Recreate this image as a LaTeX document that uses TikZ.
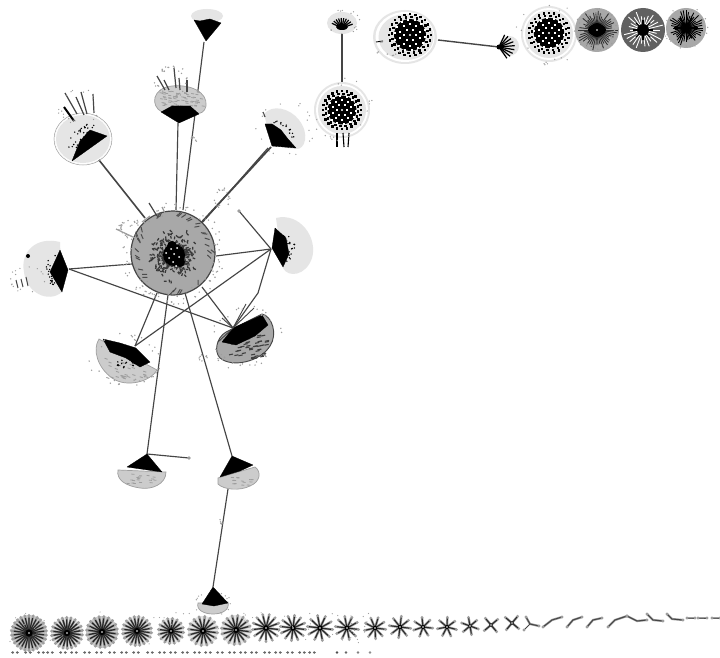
\documentclass[tikz,border=0pt]{standalone}
\definecolor{lite}{gray}{0.90}
\definecolor{mid}{gray}{0.80}
\definecolor{hubg}{gray}{0.66}
\definecolor{edgec}{gray}{0.27}
\definecolor{speck}{gray}{0.62}
\tikzset{
  net/.style={draw=edgec,line width=1.15pt},
  spike/.style={draw=edgec,line width=1.2pt},
  blackfan/.style={fill=black,draw=black,line width=0.3pt,line join=round},
  capl/.style={fill=lite,draw=none},
  capm/.style={fill=mid,draw=speck,line width=0.7pt},
  caph/.style={fill=hubg,draw=edgec,line width=0.9pt}
}
% random specks in an elliptical ring
\newcommand{\specks}[6]{% cx cy rx ry n size
  \foreach \k in {1,...,#5}{
    \pgfmathsetmacro{\sa}{rnd*360}
    \pgfmathsetmacro{\sr}{0.85+0.3*rnd}
    \fill[speck] ({#1+#3*\sr*cos(\sa)},{#2+#4*\sr*sin(\sa)}) circle (#6);
  }
}
% dark dots on a sector
\newcommand{\fandots}[7]{% cx cy r1 r2 a1 a2 n
  \foreach \k in {1,...,#7}{
    \pgfmathsetmacro{\sa}{#5+(#6-#5)*rnd}
    \pgfmathsetmacro{\sr}{#3+(#4-#3)*rnd}
    \fill[black] ({#1+\sr*cos(\sa)},{#2+\sr*sin(\sa)}) circle (0.8pt);
  }
}
% ball of black with a lattice of white holes
\newcommand{\latball}[3]{% x y r
  \fill[black] (#1,#2) circle ({0.76*#3});
  \foreach \ra/\nn/\off in {0.28/6/0,0.52/10/18,0.74/14/6}{
    \foreach \j in {1,...,\nn}{
      \fill[white] ({#1+#3*\ra*cos(\off+\j*360/\nn)-1},{#2+#3*\ra*sin(\off+\j*360/\nn)-1}) rectangle ++(2,2);
    }
  }
  \foreach \ra/\nn/\off in {0.86/20/5,1.0/24/0}{
    \foreach \j in {1,...,\nn}{
      \fill[black] ({#1+#3*\ra*cos(\off+\j*360/\nn)-1.2},{#2+#3*\ra*sin(\off+\j*360/\nn)-1.2}) rectangle ++(2.4,2.4);
    }
  }
  \fill[white] (#1,#2) circle (1.1);
}
% star with spokes and gray tips
\newcommand{\starb}[7]{% x y r n lw halo offset
  \fill[#6] (#1,#2) circle (#3);
  \foreach \j in {1,...,#4}{
    \draw[speck,line width=2.4pt] (#1,#2) -- ({#1+0.95*#3*cos(\j*360/#4+#7)},{#2+0.95*#3*sin(\j*360/#4+#7)});
    \fill[speck] ({#1+0.98*#3*cos(\j*360/#4+#7)},{#2+0.98*#3*sin(\j*360/#4+#7)}) circle (1.5);
  }
  \foreach \j in {1,...,#4}{
    \draw[black!85,line width=#5] (#1,#2) -- ({#1+0.85*#3*cos(\j*360/#4+#7)},{#2+0.85*#3*sin(\j*360/#4+#7)});
  }
  \fill[black] (#1,#2) circle ({0.2*#3});
  \fill[white] (#1,#2) circle (0.8);
}
% dense gray ball with rays
\newcommand{\rayball}[7]{% x y r bg raycolor n core
  \fill[#4] (#1,#2) circle (#3);
  \foreach \j in {1,...,#6}{
    \pgfmathsetmacro{\raylen}{0.55+0.4*rnd}
    \pgfmathsetmacro{\rayang}{\j/#6*360}
    \draw[#5,line width=0.9pt] (#1,#2) -- ({#1+\raylen*#3*cos(\rayang)},{#2+\raylen*#3*sin(\rayang)});
  }
  \fill[black] (#1,#2) circle (#7);
  \fill[white] (#1,#2) circle (0.9);
}
% tiny chains
\newcommand{\chainc}[3]{%
  \draw[speck,line width=2.2pt,line join=round] #1 -- #2 -- #3;
  \draw[edgec,line width=1pt,line join=round] #1 -- #2 -- #3;
  \foreach \p in {#1,#3}{\fill[speck] \p circle (1.6);}
}
\begin{document}
\begin{tikzpicture}[x=1pt,y=-1pt]
\useasboundingbox (0,0) rectangle (720,658);
\fill[white] (0,0) rectangle (720,658);
\pgfmathsetseed{4711}

% ---------- connection points
\coordinate (hubA) at (183,210);
\coordinate (hubB) at (176,210);
\coordinate (hubC) at (145,218);
\coordinate (hubD) at (200,224);
\coordinate (hubE) at (216,256);
\coordinate (hubF) at (132,264);
\coordinate (hubG) at (202,287);
\coordinate (hubH) at (157,293);
\coordinate (hubI) at (168,295);
\coordinate (hubJ) at (185,293);
\coordinate (nA) at (204,42);
\coordinate (nB) at (178,123);
\coordinate (nC) at (95,155);
\coordinate (nD) at (271,147);
\coordinate (nD2) at (268,148);
\coordinate (nE) at (271,249);
\coordinate (nEstub) at (239,211);
\coordinate (nEbend) at (258,293);
\coordinate (nF) at (69,269);
\coordinate (nG) at (233,328);
\coordinate (nH) at (135,346);
\coordinate (nI) at (147,454);
\coordinate (nIstub) at (189,458);
\coordinate (nJ) at (232,456);
\coordinate (nJb) at (228,489);
\coordinate (nK) at (213,587);
\coordinate (t1) at (342,27);
\coordinate (t2) at (342,87);
\coordinate (t3) at (438,40);
\coordinate (t4) at (499,47);

% ---------- edges behind shapes
\draw[net] (nA) -- (hubA);
\draw[net] (nB) -- (hubB);
\draw[net,line width=1.6pt] (nC) -- (hubC);
\draw[net,line width=1.8pt] (nD) -- (hubD);
\draw[net] (nD2) -- ([xshift=2pt,yshift=1pt]hubD);
\draw[net] (nE) -- (hubE);
\draw[net] (nE) -- (nEstub);
\draw[net] (nF) -- (hubF);
\draw[net] (nF) -- (nG);
\draw[net] (nE) -- (nEbend) -- (nG);
\draw[net] (nE) -- (nH);
\draw[net] (hubG) -- (nG);
\draw[net] (hubH) -- (nH);
\draw[net] (hubI) -- (nI);
\draw[net] (hubJ) -- (nJ);
\draw[net] (nI) -- (nIstub);
\draw[net] (nJb) -- (nK);
\draw[edgec,line width=2pt] (t1) -- (t2);
\draw[net,line width=1.4pt] (t3) -- (t4);
\fill[speck] (nIstub) circle (1.8);
\fill[speck] (nEstub) circle (1.8);
\specks{193}{141}{3}{4}{6}{0.8}
\specks{222}{198}{7}{9}{18}{0.8}
\specks{203}{358}{4}{3}{8}{0.8}
\specks{223}{521}{3}{3}{6}{0.8}

% ---------- main hub
\fill[hubg,draw=edgec,line width=1.2pt] (173,253) circle (42);
\foreach \k in {1,...,420}{
  \pgfmathsetmacro{\sa}{rnd*360}
  \pgfmathsetmacro{\sr}{6+23*rnd*rnd}
  \pgfmathsetmacro{\sb}{rnd*180}
  \draw[black!78,line width=1.2pt] ({174+\sr*cos(\sa)},{255+\sr*sin(\sa)}) -- ++({2.8*cos(\sb)},{2.8*sin(\sb)});
}
\foreach \k in {1,...,34}{
  \pgfmathsetmacro{\sa}{rnd*360}
  \pgfmathsetmacro{\sr}{33+6*rnd}
  \draw[black!70,line width=1pt] ({173+\sr*cos(\sa)},{253+\sr*sin(\sa)}) -- ({173+(\sr+4)*cos(\sa+5)},{253+(\sr+4)*sin(\sa+5)});
}
\fill[black] (174,255) circle (11);
\fill[black] (172,246) circle (5);
\fill[black] (180,262) circle (5);
\foreach \dx/\dy in {-3/-6,3/-7,0/-1,-5/3,5/2,-1/7,-8/-2,2/11}{
  \fill[white] (174+\dx,255+\dy) circle (1);
}
\specks{173}{253}{45}{45}{110}{0.8}
\draw[spike,draw=speck] (116,229) -- (135,238);
\draw[spike] (149,203) -- (157,216);
\draw[spike,draw=speck] (162,207) -- (165,213);
\draw[spike,draw=speck] (142,222) -- (150,216);
\specks{130}{228}{10}{8}{22}{0.8}

% ---------- A (top)
\fill[capl] (207,16) ellipse (16 and 7);
\fill[blackfan] (206,41) -- (194,20) -- (200,21) -- (210,19) -- (221,23) -- cycle;
% ---------- B
\fill[capm] (162,112) .. controls (150,106) and (152,88) .. (172,86) .. controls (190,84) and (208,92) .. (206,106) .. controls (205,112) and (200,114) .. (198,113) -- cycle;
\foreach \k in {1,...,60}{
  \pgfmathsetmacro{\qx}{158+44*rnd}
  \pgfmathsetmacro{\qy}{91+15*rnd}
  \draw[speck,line width=0.8pt] (\qx,\qy) -- ++(3,0.5);
}
\fill[blackfan] (179,123) -- (161,112) -- (172,106) -- (190,106) -- (199,114) -- cycle;
\foreach \ax/\ay/\bx/\by in {157/76/165/90,164/80/169/90,174/68/176/88,179/78/180/90,187/80/187/92}{
  \draw[spike] (\ax,\ay) -- (\bx,\by);
}
\specks{172}{82}{16}{14}{34}{0.8}
% ---------- C
\fill[capl] (83,139) ellipse (28 and 25);
\draw[speck,line width=0.5pt] (83,139) ellipse (29 and 26);
\fill[white] (83,139) ellipse (28 and 25);
\fill[capl] (83,139) ellipse (27 and 24);
\fill[blackfan] (72,161) -- (107,136) -- (90,130) -- (80,141) -- cycle;
\fandots{96}{150}{16}{28}{185}{265}{34}
\draw[black,line width=2pt] (64,107) -- (74,121);
\foreach \ax/\ay/\bx/\by in {65/93/77/114,76/97/84/115,81/92/87/114,93/94/94/113}{
  \draw[spike] (\ax,\ay) -- (\bx,\by);
}
\specks{78}{106}{20}{16}{18}{0.7}
% ---------- D
\fill[capl] (264,114) .. controls (272,104) and (290,108) .. (299,120) .. controls (310,134) and (305,150) .. (296,149) -- (272,146) -- cycle;
\fill[blackfan] (265,124) -- (272,124) -- (281,130) -- (288,139) -- (296,148) -- (272,146) -- cycle;
\fandots{272}{143}{20}{23}{-85}{-10}{14}
\draw[spike] (263,112) -- (265,117);
\specks{285}{128}{26}{26}{18}{0.7}
% ---------- E
\fill[capl] (276,218) .. controls (300,212) and (318,238) .. (312,258) .. controls (306,276) and (288,278) .. (283,268) -- cycle;
\fill[blackfan] (275,228) -- (272,248) -- (283,267) -- (289,254) -- (286,238) -- cycle;
\fandots{274}{248}{13}{22}{-60}{55}{24}
% ---------- F
\fill[capl] (60,242) .. controls (36,236) and (20,252) .. (24,272) .. controls (26,292) and (48,304) .. (62,292) -- cycle;
\fill[blackfan] (60,250) -- (68,270) -- (62,292) -- (50,272) -- cycle;
\fandots{62}{270}{12}{18}{115}{245}{20}
\foreach \ax/\ay/\bx/\by in {16/280/18/288,21/279/23/287,26/277/28/286}{
  \draw[spike,line width=1pt] (\ax,\ay) -- (\bx,\by);
}
\fill[black] (28,256) circle (2);
\specks{28}{280}{16}{13}{16}{0.7}
% ---------- G
\fill[caph] (226,332) -- (262,314) .. controls (272,316) and (278,334) .. (270,346) .. controls (260,362) and (232,368) .. (220,358) .. controls (214,352) and (216,338) .. (226,332) -- cycle;
\foreach \k in {1,...,46}{
  \pgfmathsetmacro{\qx}{223+43*rnd}
  \pgfmathsetmacro{\qy}{335+24*rnd}
  \draw[black!75,line width=1.1pt] (\qx,\qy) -- ++(4,-0.8);
}
\fill[blackfan] (233,328) -- (262,315) -- (268,325) -- (255,336) -- (236,345) -- (222,342) -- cycle;
\foreach \ax/\ay/\bx/\by in {233/328/254/308,233/328/246/304,233/328/222/318,233/328/218/342}{
  \draw[edgec,line width=0.9pt] (\ax,\ay) -- (\bx,\by);
}
\specks{246}{338}{32}{30}{36}{0.8}
% ---------- H
\fill[capm] (99,339) -- (157,370) .. controls (150,382) and (126,388) .. (112,378) .. controls (98,368) and (92,350) .. (99,339) -- cycle;
\foreach \k in {1,...,34}{
  \pgfmathsetmacro{\qx}{104+42*rnd}
  \pgfmathsetmacro{\qy}{356+24*rnd}
  \draw[speck,line width=0.9pt] (\qx,\qy) -- ++(3,1);
}
\fill[blackfan] (103,339) -- (120,343) -- (136,348) -- (150,362) -- (140,367) -- (126,358) -- (110,352) -- cycle;
\fandots{128}{352}{10}{18}{60}{140}{16}
\specks{125}{360}{32}{24}{30}{0.8}
% ---------- I
\fill[capm] (118,470) -- (166,472) .. controls (166,484) and (152,490) .. (140,488) .. controls (126,486) and (116,480) .. (118,470) -- cycle;
\foreach \k in {1,...,18}{
  \pgfmathsetmacro{\qx}{124+36*rnd}
  \pgfmathsetmacro{\qy}{474+10*rnd}
  \draw[speck,line width=0.8pt] (\qx,\qy) -- ++(3,0.3);
}
\fill[blackfan] (147,454) -- (127,467) -- (162,472) -- cycle;
% ---------- J
\fill[capm] (218,478) -- (255,467) .. controls (262,472) and (260,482) .. (250,486) .. controls (240,491) and (224,490) .. (218,484) -- cycle;
\foreach \k in {1,...,14}{
  \pgfmathsetmacro{\qx}{222+30*rnd}
  \pgfmathsetmacro{\qy}{476+9*rnd}
  \draw[speck,line width=0.8pt] (\qx,\qy) -- ++(3,0.3);
}
\fill[blackfan] (232,456) -- (253,465) -- (240,471) -- (220,477) -- cycle;
% ---------- K
\fill[capm] (198,603) -- (228,602) .. controls (230,610) and (222,614) .. (213,614) .. controls (204,614) and (196,610) .. (198,603) -- cycle;
\fill[blackfan] (213,587) -- (228,603) -- (214,606) -- (202,604) -- cycle;
\specks{213}{604}{17}{11}{12}{0.7}

% ---------- top right
\fill[capl] (342,23) ellipse (15 and 11);
\foreach \j in {20,35,...,160}{
  \draw[black,line width=1.2pt] (342,28) -- ++({-\j}:{12-2*abs(sin(\j))});
}
\fill[black] (342,27) ellipse (6 and 3);
\specks{342}{22}{16}{12}{14}{0.7}
% T2
\fill[capl] (342,110) circle (28);
\fill[white] (342,110) circle (26);
\fill[capl] (342,110) circle (24);
\latball{342}{110}{19}
\foreach \ax/\bx in {337/337,343/344,349/348}{
  \draw[black,line width=1.1pt] (\ax,133) -- (\bx,147);
}
\specks{342}{110}{28}{28}{18}{0.7}
% T3
\fill[capl] (405,37) ellipse (32 and 27);
\fill[white] (405,37) ellipse (29.5 and 25);
\fill[capl] (406,37) ellipse (27.5 and 23);
\latball{410}{35}{21}
\draw[black,line width=0.9pt] (376,42) -- (383,41);
\specks{388}{48}{12}{7}{10}{0.8}
% T4
\fill[capl] (509,46) circle (10);
\foreach \j in {-65,-50,...,65}{
  \draw[black,line width=1.2pt] (t4) -- ++(\j:{16-0.04*abs(\j)});
}
\fill[black] (t4) circle (2.5);
% T5
\fill[capl] (549,34) circle (28);
\fill[white] (549,34) circle (26);
\fill[capl] (549,34) circle (24);
\latball{549}{33}{20}
\specks{549}{34}{29}{29}{16}{0.7}
% ray balls
\rayball{597}{30}{22}{hubg}{black!80}{46}{7}
\specks{597}{30}{19}{19}{40}{0.8}
\fill[black] (597,30) ellipse (9 and 6);
\fill[white] (597,30) circle (0.9);
\rayball{643}{30}{22}{black!62}{white!80}{26}{5}
\fill[black] (643,30) circle (6);\fill[white] (643,30) circle (0.9);
\foreach \j in {0,45,...,315}{\draw[black,line width=1.2pt] (643,30) -- ++(\j:10);}
\rayball{686}{28}{20}{hubg}{black}{40}{4}
\foreach \j in {0,60,...,300}{\draw[black,line width=1.4pt] (686,28) -- ++(\j:12);}
\specks{686}{28}{20}{20}{20}{0.7}

% ---------- bottom row of stars
\starb{29}{633}{18}{26}{1.2pt}{mid}{7}
\starb{67}{633}{16}{22}{1.3pt}{lite}{7}
\starb{102}{632}{16}{20}{1.3pt}{mid}{7}
\starb{137}{631}{15}{20}{1.2pt}{lite}{7}
\starb{171}{631}{13}{16}{1.2pt}{lite}{7}
\starb{203}{631}{15}{16}{1.2pt}{lite}{7}
\starb{236}{630}{15}{16}{1.2pt}{lite}{7}
\starb{266}{628}{14}{13}{1.1pt}{white}{7}
\starb{293}{628}{13}{12}{1.1pt}{white}{7}
\starb{320}{628}{13}{10}{1.1pt}{white}{7}
\starb{347}{628}{12}{10}{1pt}{white}{7}
\starb{375}{628}{11}{9}{1pt}{white}{7}
\starb{400}{627}{11}{8}{1pt}{white}{7}
\starb{423}{627}{10}{7}{1pt}{white}{7}
\starb{447}{627}{10}{7}{1pt}{white}{15}
\starb{470}{626}{9}{6}{1pt}{white}{20}
\starb{491}{625}{9}{4}{1pt}{white}{50}
\starb{512}{623}{9}{4}{1pt}{white}{40}
\chainc{(526,617)}{(530,624)}{(539,626)}
\draw[edgec,line width=1pt] (530,624) -- (524,630);
\fill[speck] (524,630) circle (1.6);
\chainc{(543,627)}{(552,620)}{(562,617)}
\chainc{(567,627)}{(573,620)}{(582,617)}
\chainc{(587,627)}{(593,620)}{(602,618)}
\chainc{(608,627)}{(615,620)}{(627,616)}
\chainc{(627,616)}{(637,621)}{(647,620)}
\chainc{(647,614)}{(653,620)}{(663,621)}
\chainc{(667,614)}{(672,619)}{(683,620)}
\chainc{(687,618)}{(691,618)}{(695,618)}
\chainc{(698,618)}{(702,618)}{(707,618)}
\chainc{(712,618)}{(716,618)}{(720,618)}
\foreach \q in {1,...,90}{
  \pgfmathsetmacro{\qx}{10+360*rnd}
  \pgfmathsetmacro{\qy}{612+32*rnd}
  \fill[speck] (\qx,\qy) circle (0.6);
}
% ---------- tiny pairs
\foreach \xx in {15,28,41,50,63,74,87,99,112,124,136,150,162,173,185,197,208,220,232,243,254,267,278,290,302,312}{
  \fill[black!60] (\xx-2.3,652.5) ellipse (1.5 and 1.3);
  \fill[black!60] (\xx+2.3,652.5) ellipse (1.5 and 1.3);
}
\foreach \xx/\cc in {337/black!70,346/black!60,358/black!50,370/black!45}{
  \fill[\cc] (\xx,652.5) circle (1.4);
}
\end{tikzpicture}
\end{document}
